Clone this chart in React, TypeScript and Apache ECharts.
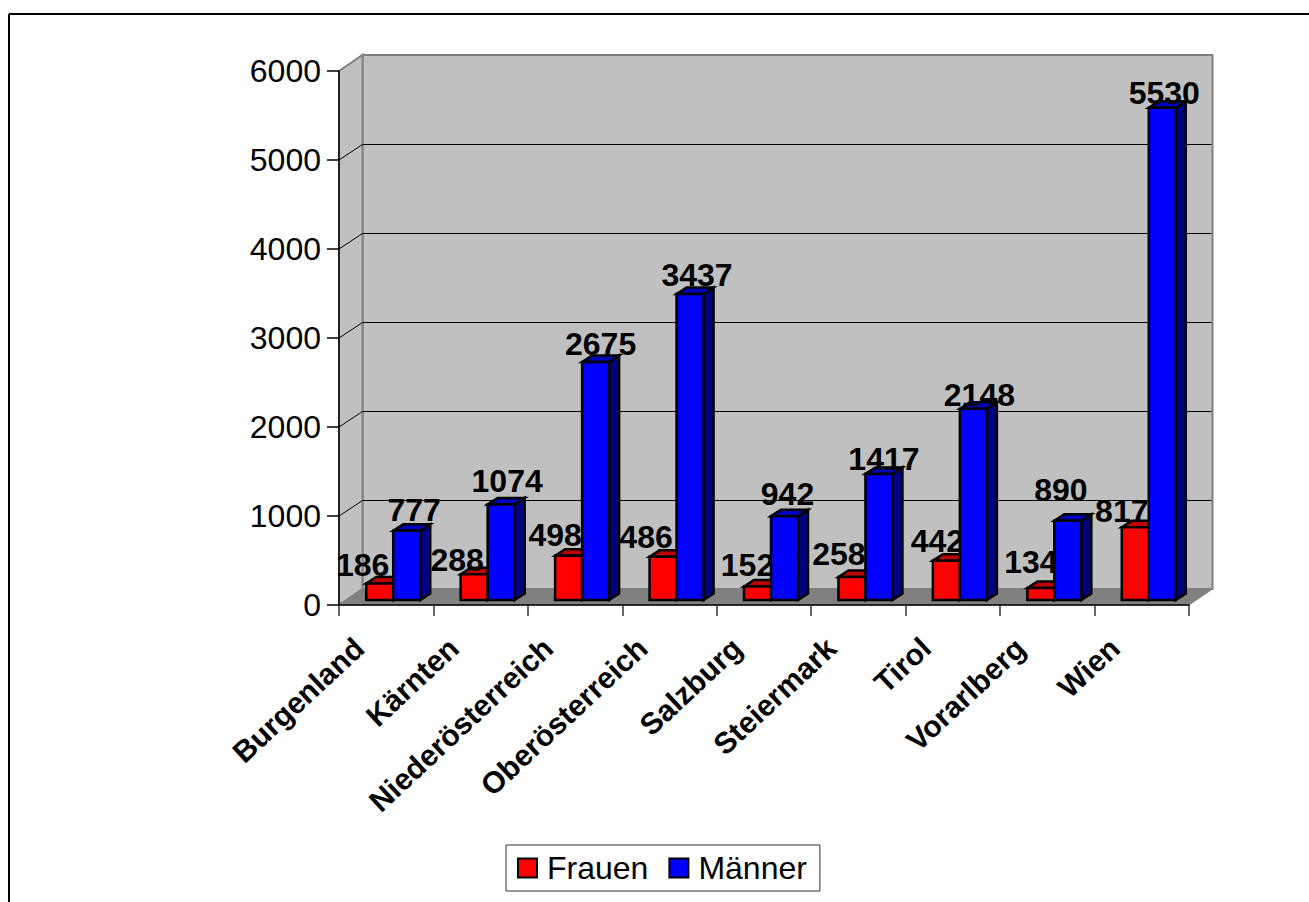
import React, { useEffect, useRef } from "react";
import * as echarts from "echarts";

const categories = ["Burgenland", "Kärnten", "Niederösterreich", "Oberösterreich", "Salzburg", "Steiermark", "Tirol", "Vorarlberg", "Wien"];
const frauen = [186, 288, 498, 486, 152, 258, 442, 134, 817];
const maenner = [777, 1074, 2675, 3437, 942, 1417, 2148, 890, 5530];
const wallTicks = [1000, 2000, 3000, 4000, 5000];

// label nudges relative to the bar (layout only)
const frauenLabelDx = [-17, -17, -13.5, -17, -10, -13, -9, -10, -13.5];
const frauenLabelDy = [-12, -8, -14, -13, -15, -16.5, -13, -20, -10];
const maennerLabelDx = [7.5, 6, 5, 7, 3, 5, 6, -7, 2];
const maennerLabelDy = [-14, -17, -11, -12.6, -15.7, -8, -7, -24, -8];

const FONT = '"Liberation Sans", Arial, sans-serif';
const WALL_DX = 23.5;
const WALL_DY = -16;
const BAR_W = 27;
const BAR_DX = 10;
const BAR_DY = -6.5;
const BASE_DX = 7;
const BASE_DY = -5;

const wallRender = (params: any) => {
  const { x, y, width, height } = params.coordSys;
  const b = y + height;
  const r = x + width;
  const st = { fill: "#c0c0c0", stroke: "#808080", lineWidth: 2 };
  return {
    type: "group",
    children: [
      { type: "polygon", shape: { points: [[x + WALL_DX, y + WALL_DY], [r + WALL_DX, y + WALL_DY], [r + WALL_DX, b + WALL_DY], [x + WALL_DX, b + WALL_DY]] }, style: st },
      { type: "polygon", shape: { points: [[x, y], [x + WALL_DX, y + WALL_DY], [x + WALL_DX, b + WALL_DY], [x, b]] }, style: st },
      { type: "polygon", shape: { points: [[x, b], [x + WALL_DX, b + WALL_DY], [r + WALL_DX, b + WALL_DY], [r, b]] }, style: { fill: "#808080", stroke: "#808080", lineWidth: 1 } },
    ],
  };
};

const gridRender = (params: any, api: any) => {
  const { x, width } = params.coordSys;
  const yy = api.coord([0, api.value(1)])[1];
  const yb = Math.round(yy + WALL_DY) + 0.5;
  return {
    type: "polyline",
    shape: { points: [[x, yy], [x + WALL_DX, yb], [x + width + WALL_DX - 1, yb]] },
    style: { fill: "none", stroke: "#000", lineWidth: 1 },
  };
};

const barRender = (front: string, top: string, side: string, barOffset: number, dxs: number[], dys: number[]) => (params: any, api: any) => {
  const i = api.value(0);
  const v = api.value(1);
  const pT = api.coord([i, v]);
  const p0 = api.coord([i, 0]);
  const l = p0[0] + BASE_DX + barOffset;
  const r = l + BAR_W;
  const b = p0[1] + BASE_DY;
  const t = pT[1] + BASE_DY;
  const st = { stroke: "#000", lineWidth: 2.5, lineJoin: "miter" };
  return {
    type: "group",
    children: [
      { type: "polygon", shape: { points: [[r, b], [r + BAR_DX, b + BAR_DY], [r + BAR_DX, t + BAR_DY], [r, t]] }, style: { ...st, fill: side } },
      { type: "polygon", shape: { points: [[l, t], [l + BAR_DX, t + BAR_DY], [r + BAR_DX, t + BAR_DY], [r, t]] }, style: { ...st, fill: top } },
      { type: "polygon", shape: { points: [[l, t], [r, t], [r, b], [l, b]] }, style: { ...st, fill: front } },
      {
        type: "text",
        z2: 50,
        style: {
          x: (l + r) / 2 + dxs[params.dataIndex],
          y: t + BAR_DY + dys[params.dataIndex],
          text: String(v),
          fill: "#000",
          font: `bold 32px ${FONT}`,
          align: "center",
          verticalAlign: "middle",
        },
      },
    ],
  };
};

export default function App() {
  const ref = useRef<HTMLDivElement>(null);
  useEffect(() => {
    document.body.style.margin = "0";
    const chart = echarts.init(ref.current!, undefined, { renderer: "svg" });
    chart.setOption({
      animation: false,
      backgroundColor: "#fff",
      textStyle: { fontFamily: FONT },
      grid: { left: 339, right: 120, top: 71, bottom: 297 },
      graphic: [
        { type: "line", shape: { x1: 9, y1: 14, x2: 1309, y2: 14 }, style: { stroke: "#000", lineWidth: 2 } },
        { type: "line", shape: { x1: 9, y1: 14, x2: 9, y2: 902 }, style: { stroke: "#000", lineWidth: 2 } },
      ],
      legend: {
        left: 506,
        top: 845,
        padding: [7, 13, 7, 11],
        backgroundColor: "#fff",
        borderColor: "#333",
        borderWidth: 1,
        itemWidth: 19,
        itemHeight: 19,
        itemGap: 20,
        selectedMode: false,
        textStyle: { fontFamily: FONT, fontSize: 32, color: "#000", padding: [0, 2, 0, 5] },
        data: [
          { name: "Frauen", icon: "rect", itemStyle: { color: "#ff0000", borderColor: "#000", borderWidth: 2 } },
          { name: "Männer", icon: "rect", itemStyle: { color: "#0000ff", borderColor: "#000", borderWidth: 2 } },
        ],
      },
      xAxis: {
        type: "category",
        data: categories,
        z: 2,
        axisLine: { lineStyle: { color: "#000", width: 1.5 } },
        axisTick: { show: true, length: 11, lineStyle: { color: "#333", width: 1.5 }, alignWithLabel: false },
        axisLabel: {
          interval: 0,
          rotate: 43,
          margin: 13,
          padding: [0, 37, 0, 0],
          fontFamily: FONT,
          fontSize: 30,
          fontWeight: "bold",
          color: "#000",
        },
      },
      yAxis: {
        type: "value",
        min: 0,
        max: 6000,
        interval: 1000,
        z: 2,
        splitLine: { show: false },
        axisLine: { show: true, lineStyle: { color: "#000", width: 1.5 } },
        axisTick: { show: true, length: 12, lineStyle: { color: "#000", width: 1.5 } },
        axisLabel: { margin: 18, fontFamily: FONT, fontSize: 32, color: "#000", formatter: (v: number) => String(v) },
      },
      series: [
        { type: "custom", name: "Wand", z: 1, silent: true, clip: false, encode: { x: 0, y: 1 }, data: [[0, 0]], renderItem: wallRender },
        { type: "custom", name: "Gitter", z: 1, silent: true, clip: false, encode: { x: 0, y: 1 }, data: wallTicks.map((t) => [0, t]), renderItem: gridRender },
        {
          type: "custom",
          name: "Frauen",
          z: 3,
          clip: false,
          itemStyle: { color: "#ff0000" },
          encode: { x: 0, y: 1 },
          data: frauen.map((v, i) => [i, v]),
          renderItem: barRender("#ff0000", "#c00000", "#800000", -BAR_W, frauenLabelDx, frauenLabelDy),
        },
        {
          type: "custom",
          name: "Männer",
          z: 4,
          clip: false,
          itemStyle: { color: "#0000ff" },
          encode: { x: 0, y: 1 },
          data: maenner.map((v, i) => [i, v]),
          renderItem: barRender("#0000ff", "#0000c0", "#000080", 0, maennerLabelDx, maennerLabelDy),
        },
      ],
    });
    return () => chart.dispose();
  }, []);
  return <div ref={ref} style={{ width: 1309, height: 902 }} />;
}
